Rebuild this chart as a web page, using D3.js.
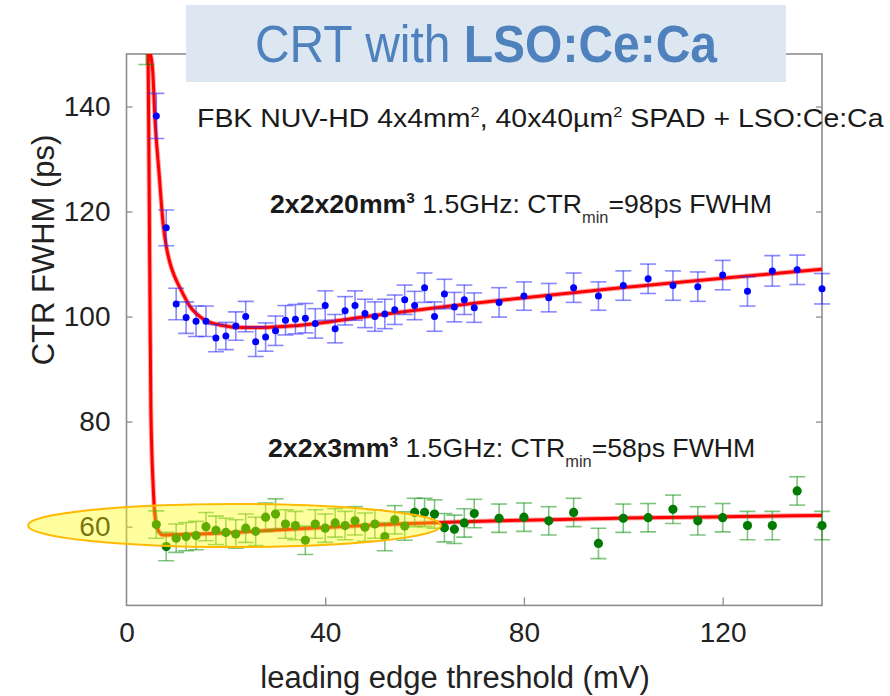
<!DOCTYPE html>
<html>
<head>
<meta charset="utf-8">
<script src="https://cdn.jsdelivr.net/npm/d3@7"></script>
<style>
  body { margin: 0; background: #fff; }
  svg { display: block; font-family: "Liberation Sans", Arial, sans-serif; }
</style>
</head>
<body>
<svg id="chart" width="890" height="696"></svg>
<script>
// threshold (mV) and CTR FWHM (ps)
const thr20 = [6, 8, 10, 12, 14, 16, 18, 20, 22, 24, 26, 28, 30, 32, 34, 36, 38, 40, 42, 44, 46, 48, 50, 52, 54, 56, 58, 60, 62, 64, 66, 68, 70,
  75, 80, 85, 90, 95, 100, 105, 110, 115, 120, 125, 130, 135, 140];
const ctr20 = [138.2, 116.9, 102.4, 99.8, 99.1, 99.1, 95.9, 96.3, 98.2, 100.0, 95.2, 96.1, 97.3, 99.3, 99.5, 99.7, 98.7, 102.1, 97.7, 101.1, 102.1, 100.6,
  100.0, 100.5, 101.3, 103.2, 102.1, 105.5, 100.0, 104.3, 101.8, 103.2, 101.7,
  102.7, 103.9, 103.6, 105.5, 103.9, 105.9, 107.2, 105.9, 105.7, 107.9, 104.8, 108.7, 108.9, 105.3];
const err20 = [4.3, 3.4, 3.0, 3.0, 2.9, 2.9, 2.6, 2.6, 2.7, 2.9, 2.8, 2.7, 2.8, 2.8, 2.8, 2.8, 2.8, 2.8, 2.7, 2.7, 2.8, 2.7,
  2.8, 2.8, 2.8, 2.8, 2.7, 2.8, 2.8, 2.8, 2.8, 2.8, 2.8,
  2.8, 2.7, 2.7, 2.8, 2.7, 2.8, 2.8, 2.8, 2.8, 2.8, 2.8, 2.9, 2.8, 2.9];

const thr3 = [4, 6, 8, 10, 12, 14, 16, 18, 20, 22, 24, 26, 28, 30, 32, 34, 36, 38, 40, 42, 44, 46, 48, 50, 52, 54, 56, 58, 60, 62, 64, 66, 68, 70,
  75, 80, 85, 90, 95, 100, 105, 110, 115, 120, 125, 130, 135, 140];
const ctr3 = [152.5, 60.4, 56.2, 57.8, 58.1, 58.3, 60.0, 59.3, 58.9, 58.6, 59.7, 59.1, 61.8, 62.4, 60.5, 60.2, 57.4, 60.5, 59.7, 60.7, 60.2, 61.1, 59.9,
  60.5, 58.1, 61.3, 60.1, 62.7, 62.7, 62.4, 59.8, 59.5, 60.7, 62.5,
  61.6, 61.8, 61.1, 62.7, 56.8, 61.6, 61.7, 63.3, 61.1, 61.7, 60.2, 60.2, 66.8, 60.2];
const err3 = [4.5, 2.6, 2.7, 2.7, 2.7, 2.7, 2.7, 2.7, 2.7, 2.7, 2.7, 2.7, 2.7, 2.9, 2.7, 2.7, 2.7, 2.7, 2.7, 2.7, 2.7, 2.7, 2.7,
  2.7, 2.7, 2.7, 2.7, 2.7, 2.7, 2.7, 2.7, 2.7, 2.7, 2.7,
  2.7, 2.7, 2.7, 2.7, 2.9, 2.7, 2.7, 2.7, 2.7, 2.7, 2.7, 2.7, 2.7, 2.7];

// fitted curves
const fit20X = [4.8, 5.3, 5.7, 6.6, 7.4, 8.0, 8.75, 9.7, 10.8, 12.8, 15.5, 18.8, 23.5, 27.5, 31.5, 38.3, 47.6, 140];
const fit20Y = [150, 146.4, 138.2, 126.8, 117.4, 113.4, 110.2, 107.6, 105.4, 101.9, 99.5, 98.4, 97.9, 97.9, 98.1, 98.7, 99.9, 109.0];
const fit3X = [4.35, 4.6, 4.9, 5.4, 5.7, 6.1, 6.6, 7.4, 14.1, 27.5, 47.6, 140];
const fit3Y = [150, 120, 82.9, 67.1, 62.3, 60.2, 58.9, 58.4, 58.6, 59.2, 60.2, 62.1];

const xTicks = [0, 40, 80, 120];
const yTicks = [60, 80, 100, 120, 140];

const svg = d3.select("svg#chart");
const plotLeft = 126.5, plotRight = 822, plotTop = 54, plotBottom = 605.4;

const x = d3.scaleLinear().domain([0, 140]).range([plotLeft, plotRight]);
const y = d3.scaleLinear().domain([45, 150]).range([plotBottom, plotTop]);

svg.append("defs").append("clipPath").attr("id", "plotclip")
  .append("rect").attr("x", plotLeft - 10).attr("y", plotTop)
  .attr("width", plotRight - plotLeft + 20).attr("height", plotBottom - plotTop);

// frame + ticks
const axisColor = "#8d8d8d";
function styleAxis(g) {
  g.select(".domain").remove();
  g.selectAll(".tick line").attr("stroke", axisColor).attr("stroke-width", 1.3);
  g.selectAll(".tick text").attr("fill", "#222").style("font-size", "28px");
}
svg.append("g").attr("transform", `translate(${plotLeft},0)`)
  .call(d3.axisLeft(y).tickValues(yTicks).tickSize(-6).tickPadding(16))
  .call(styleAxis);
svg.append("g").attr("transform", `translate(${plotRight},0)`)
  .call(d3.axisRight(y).tickValues(yTicks).tickSize(-6).tickFormat(""))
  .call(styleAxis);
svg.append("g").attr("transform", `translate(0,${plotBottom})`)
  .call(d3.axisBottom(x).tickValues(xTicks).tickSize(-8).tickPadding(17))
  .call(styleAxis)
  .call(g => g.selectAll(".tick line").filter(d => d === 0).remove());
svg.append("rect")
  .attr("x", plotLeft).attr("y", plotTop).attr("width", plotRight - plotLeft).attr("height", plotBottom - plotTop)
  .attr("fill", "none").attr("stroke", axisColor).attr("stroke-width", 1.6);

// axis titles
svg.append("text")
  .attr("transform", "translate(54,250) rotate(-90)")
  .attr("text-anchor", "middle").attr("fill", "#222")
  .style("font-size", "31px")
  .text("CTR FWHM (ps)");
svg.append("text")
  .attr("x", 455).attr("y", 688)
  .attr("text-anchor", "middle").attr("fill", "#222")
  .style("font-size", "31px")
  .text("leading edge threshold (mV)");

const plot = svg.append("g").attr("clip-path", "url(#plotclip)");

// fits
function fitPath(xs, ys) {
  return d3.line().curve(d3.curveMonotoneX)(xs.map((v, i) => [x(v), y(ys[i])]));
}
[[fit20X, fit20Y], [fit3X, fit3Y]].forEach(([xs, ys]) => {
  plot.append("path").attr("d", fitPath(xs, ys))
    .attr("fill", "none").attr("stroke", "#ff0000").attr("stroke-opacity", 0.35).attr("stroke-width", 5);
  plot.append("path").attr("d", fitPath(xs, ys))
    .attr("fill", "none").attr("stroke", "#ff0000").attr("stroke-width", 3);
});

// error bars and points
function drawSeries(xs, ys, es, barColor, dotColor, r) {
  const pts = xs.map((v, i) => ({x: v, y: ys[i], e: es[i]}));
  const g = plot.append("g");
  const cap = 8;
  const eb = g.selectAll("g.eb").data(pts).join("g").attr("class", "eb")
    .attr("stroke", barColor).attr("stroke-width", 1.6);
  eb.append("line").attr("x1", d => x(d.x)).attr("x2", d => x(d.x))
    .attr("y1", d => y(d.y - d.e)).attr("y2", d => y(d.y + d.e));
  eb.append("line").attr("x1", d => x(d.x) - cap).attr("x2", d => x(d.x) + cap)
    .attr("y1", d => y(d.y + d.e)).attr("y2", d => y(d.y + d.e));
  eb.append("line").attr("x1", d => x(d.x) - cap).attr("x2", d => x(d.x) + cap)
    .attr("y1", d => y(d.y - d.e)).attr("y2", d => y(d.y - d.e));
  g.selectAll("circle").data(pts).join("circle")
    .attr("cx", d => x(d.x)).attr("cy", d => y(d.y)).attr("r", r)
    .attr("fill", dotColor);
}
drawSeries(thr20, ctr20, err20, "rgba(40,40,255,0.55)", "#0000ff", 3.5);
drawSeries(thr3, ctr3, err3, "rgba(0,140,0,0.5)", "#007a00", 4.6);

// annotations
const ann = svg.append("g").attr("fill", "#1a1a1a").style("font-size", "26px");
const t1 = ann.append("text").attr("transform", "translate(197,127) scale(1.095,1)");
t1.append("tspan").text("FBK NUV-HD 4x4mm");
t1.append("tspan").attr("dy", -10).style("font-size", "15px").text("2");
t1.append("tspan").attr("dy", 10).text(", 40x40µm");
t1.append("tspan").attr("dy", -10).style("font-size", "15px").text("2");
t1.append("tspan").attr("dy", 10).text(" SPAD + LSO:Ce:Ca");

function ctrLabel(xPos, yPos, crystal, val) {
  const t = ann.append("text").attr("transform", `translate(${xPos},${yPos}) scale(1.025,1)`);
  t.append("tspan").attr("font-weight", "bold").text(crystal);
  t.append("tspan").attr("dy", -10).attr("font-weight", "bold").style("font-size", "15px").text("3");
  t.append("tspan").attr("dy", 10).text(" 1.5GHz: CTR");
  t.append("tspan").attr("dy", 10).style("font-size", "16px").style("fill", "#333").text("min");
  t.append("tspan").attr("dy", -10).text(`=${val}ps FWHM`);
}
ctrLabel(270, 213, "2x2x20mm", 98);
ctrLabel(268, 457, "2x2x3mm", 58);

// highlight ellipse
svg.append("ellipse")
  .attr("cx", 234.5).attr("cy", 525.5).attr("rx", 206.5).attr("ry", 21.5)
  .attr("fill", "rgba(255,255,0,0.38)").attr("stroke", "#ffb900").attr("stroke-width", 2);

// title box
svg.append("rect").attr("x", 186).attr("y", 5).attr("width", 600).attr("height", 77).attr("fill", "#dde7f2");
const title = svg.append("text")
  .attr("transform", "translate(486,62) scale(1,1.07)")
  .attr("text-anchor", "middle").attr("fill", "#4f81bd").style("font-size", "48px");
title.append("tspan").text("CRT with ");
title.append("tspan").attr("font-weight", "bold").text("LSO:Ce:Ca");
</script>
</body>
</html>
